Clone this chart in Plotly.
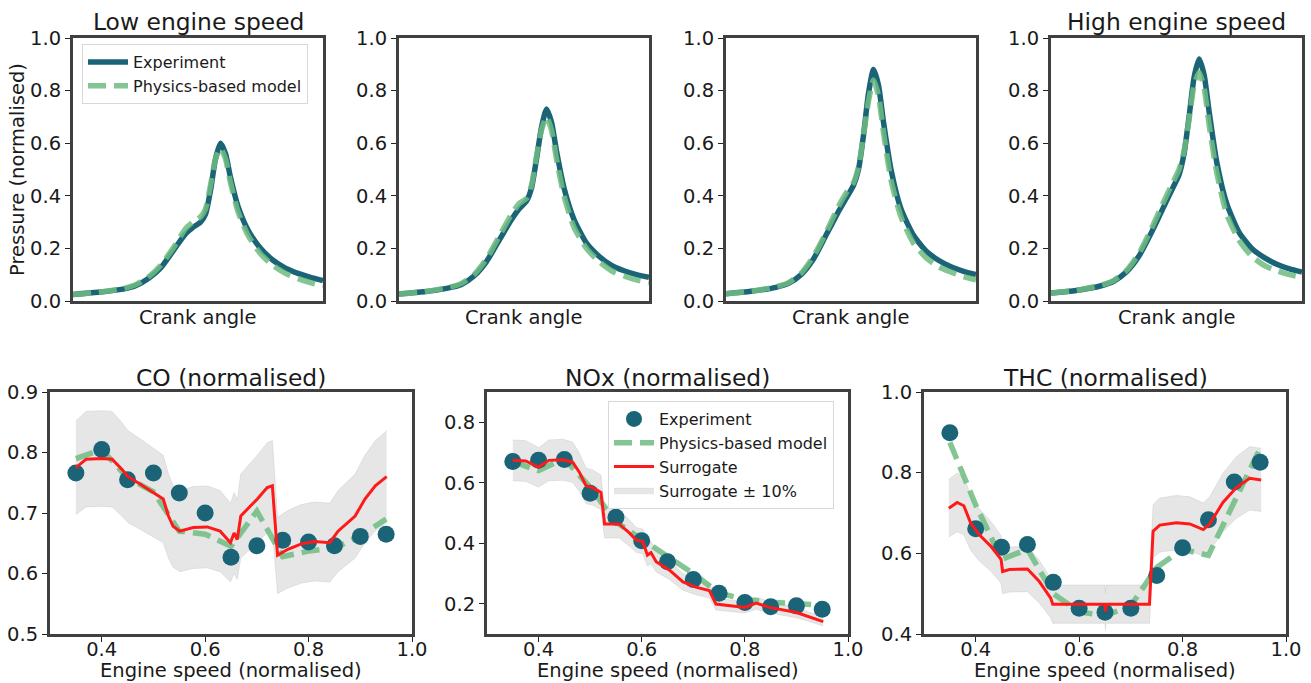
import plotly.graph_objects as go

# ---------------- data ----------------
crank = [0.0, 0.1, 0.2, 0.25, 0.3, 0.35, 0.4, 0.45, 0.48, 0.51, 0.53, 0.55, 0.57, 0.59,
         0.61, 0.63, 0.66, 0.7, 0.75, 0.8, 0.85, 0.9, 0.95, 1.0]

p_low_exp = [0.025, 0.033, 0.045, 0.058, 0.085, 0.125, 0.19, 0.255, 0.28, 0.30, 0.33, 0.42, 0.54, 0.60,
             0.56, 0.47, 0.36, 0.27, 0.20, 0.155, 0.125, 0.105, 0.09, 0.078]
p_low_phy = [0.025, 0.033, 0.047, 0.062, 0.09, 0.135, 0.20, 0.275, 0.30, 0.32, 0.35, 0.44, 0.54, 0.58,
             0.54, 0.45, 0.34, 0.25, 0.18, 0.135, 0.105, 0.085, 0.07, 0.058]
p_m1_exp = [0.027, 0.035, 0.05, 0.063, 0.095, 0.15, 0.23, 0.31, 0.35, 0.38, 0.43, 0.54, 0.66, 0.73,
            0.68, 0.57, 0.43, 0.31, 0.22, 0.17, 0.135, 0.115, 0.10, 0.09]
p_m1_phy = [0.027, 0.035, 0.052, 0.067, 0.10, 0.16, 0.245, 0.33, 0.37, 0.39, 0.44, 0.55, 0.65, 0.70,
            0.65, 0.54, 0.40, 0.28, 0.20, 0.15, 0.115, 0.095, 0.08, 0.07]
p_m2_exp = [0.028, 0.037, 0.052, 0.067, 0.10, 0.16, 0.25, 0.34, 0.39, 0.44, 0.50, 0.63, 0.79, 0.88,
            0.82, 0.68, 0.50, 0.35, 0.25, 0.19, 0.155, 0.13, 0.113, 0.10]
p_m2_phy = [0.028, 0.037, 0.054, 0.07, 0.105, 0.17, 0.26, 0.36, 0.41, 0.45, 0.51, 0.63, 0.76, 0.84,
            0.78, 0.64, 0.46, 0.32, 0.22, 0.165, 0.13, 0.11, 0.093, 0.08]
p_high_exp = [0.03, 0.04, 0.058, 0.075, 0.11, 0.17, 0.26, 0.36, 0.42, 0.48, 0.56, 0.70, 0.85, 0.92,
              0.86, 0.72, 0.53, 0.37, 0.26, 0.20, 0.165, 0.14, 0.122, 0.11]
p_high_phy = [0.03, 0.04, 0.06, 0.078, 0.115, 0.18, 0.275, 0.38, 0.44, 0.50, 0.57, 0.69, 0.82, 0.87,
              0.81, 0.67, 0.49, 0.33, 0.23, 0.17, 0.135, 0.115, 0.10, 0.09]

speed = [0.35, 0.40, 0.45, 0.50, 0.55, 0.60, 0.65, 0.70, 0.75, 0.80, 0.85, 0.90, 0.95]

co_exp = [0.766, 0.805, 0.755, 0.766, 0.733, 0.700, 0.627, 0.646, 0.655, 0.652, 0.646, 0.661, 0.665]
co_phy = [0.790, 0.805, 0.758, 0.735, 0.670, 0.665, 0.645, 0.703, 0.628, 0.637, 0.642, 0.662, 0.690]
co_sur_x = [0.35, 0.37, 0.40, 0.42, 0.438, 0.451, 0.474, 0.50, 0.519, 0.529, 0.538, 0.551, 0.577,
            0.604, 0.629, 0.649, 0.656, 0.662, 0.669, 0.688, 0.701, 0.72, 0.73, 0.74, 0.76,
            0.786, 0.812, 0.841, 0.857, 0.89, 0.909, 0.929, 0.951]
co_sur = [0.775, 0.789, 0.790, 0.789, 0.773, 0.760, 0.748, 0.734, 0.723, 0.695, 0.678, 0.670, 0.676,
          0.677, 0.670, 0.651, 0.667, 0.656, 0.695, 0.712, 0.723, 0.742, 0.745, 0.630, 0.640,
          0.649, 0.653, 0.651, 0.670, 0.695, 0.723, 0.745, 0.760]

nox_exp = [0.670, 0.674, 0.677, 0.565, 0.486, 0.408, 0.339, 0.280, 0.235, 0.204, 0.190, 0.193, 0.182]
nox_phy = [0.670, 0.640, 0.680, 0.585, 0.470, 0.415, 0.360, 0.300, 0.235, 0.215, 0.205, 0.200, 0.195]
nox_sur_x = [0.35, 0.375, 0.40, 0.42, 0.447, 0.466, 0.479, 0.492, 0.505, 0.521, 0.528, 0.556, 0.576,
             0.589, 0.602, 0.611, 0.618, 0.628, 0.654, 0.68, 0.705, 0.731, 0.744, 0.77, 0.80,
             0.822, 0.848, 0.90, 0.952]
nox_sur = [0.674, 0.672, 0.651, 0.674, 0.676, 0.668, 0.635, 0.590, 0.584, 0.568, 0.464, 0.464, 0.434,
           0.411, 0.406, 0.361, 0.369, 0.339, 0.311, 0.272, 0.255, 0.244, 0.199, 0.193, 0.188,
           0.202, 0.188, 0.171, 0.141]

thc_exp = [0.899, 0.661, 0.615, 0.622, 0.528, 0.464, 0.454, 0.464, 0.545, 0.614, 0.683, 0.777, 0.826]
thc_phy = [0.875, 0.720, 0.585, 0.610, 0.500, 0.455, 0.445, 0.470, 0.565, 0.610, 0.595, 0.730, 0.860]
thc_sur_x = [0.348, 0.364, 0.377, 0.39, 0.406, 0.429, 0.449, 0.452, 0.465, 0.50, 0.523, 0.545, 0.549,
             0.646, 0.650, 0.651, 0.652, 0.654, 0.736, 0.743, 0.756, 0.788, 0.814, 0.84, 0.852,
             0.878, 0.904, 0.93, 0.952]
thc_sur = [0.712, 0.726, 0.718, 0.676, 0.647, 0.618, 0.585, 0.555, 0.560, 0.561, 0.530, 0.489, 0.474,
           0.474, 0.474, 0.456, 0.474, 0.474, 0.474, 0.655, 0.670, 0.676, 0.673, 0.659, 0.672,
           0.726, 0.763, 0.786, 0.782]

band_frac = 0.10

top_titles = ["Low engine speed", "", "", "High engine speed"]
bottom_titles = ["CO (normalised)", "NOx (normalised)", "THC (normalised)"]

# ---------------- style ----------------
W, H = 1311, 683
TEAL = "#1b6478"
GREEN = "rgba(110,188,128,0.85)"
RED = "#ff1a1a"
BAND = "rgba(205,205,205,0.5)"
SPINE = "#404040"
FONT = "DejaVu Sans"
TXT = "#1a1a1a"
TICK_SIZE = 19.5
LABEL_SIZE = 19.5
TITLE_SIZE = 23.4
LEG_SIZE = 16

top_px = [(73, 323), (399, 649), (726, 976), (1051, 1302)]
top_py = (38, 301)
bot_px = [(50, 412), (487, 848), (924, 1286)]
bot_py = (392, 634)


def xd(a, b):
    return [a / W, b / W]


def yd(t, b):
    return [1 - b / H, 1 - t / H]


fig = go.Figure()
layout = dict(
    template="none",
    width=W, height=H, margin=dict(l=0, r=0, t=0, b=0, pad=0, autoexpand=False),
    plot_bgcolor="white", paper_bgcolor="white",
    font=dict(family=FONT, color=TXT),
    showlegend=True,
)

axis_common = dict(showline=True, mirror=True, linecolor=SPINE, linewidth=3, automargin=False,
                   showgrid=False, zeroline=False, ticklen=5,
                   tickwidth=1.2, tickcolor="#222", tickfont=dict(size=TICK_SIZE, family=FONT, color=TXT))

annotations = []
top_data = [(p_low_exp, p_low_phy), (p_m1_exp, p_m1_phy), (p_m2_exp, p_m2_phy), (p_high_exp, p_high_phy)]

for i, ((x0, x1), (e, p)) in enumerate(zip(top_px, top_data)):
    n = i + 1
    xa = "x" if n == 1 else f"x{n}"
    ya = "y" if n == 1 else f"y{n}"
    layout["xaxis" if n == 1 else f"xaxis{n}"] = dict(
        domain=xd(x0, x1), anchor=ya, range=[0, 1], showticklabels=False, ticks="", **axis_common)
    layout["yaxis" if n == 1 else f"yaxis{n}"] = dict(
        domain=yd(*top_py), anchor=xa, range=[0, 1], tickvals=[0, 0.2, 0.4, 0.6, 0.8, 1.0],
        tickformat=".1f", ticks="outside", **axis_common)
    fig.add_trace(go.Scatter(x=crank, y=e, xaxis=xa, yaxis=ya, mode="lines",
                             line=dict(color=TEAL, width=5.5, shape="spline", smoothing=0.6),
                             name="Experiment", showlegend=(n == 1), legend="legend", legendrank=1))
    fig.add_trace(go.Scatter(x=crank, y=p, xaxis=xa, yaxis=ya, mode="lines",
                             line=dict(color=GREEN, width=5.5, dash="18px,8px", shape="spline", smoothing=0.6),
                             name="Physics-based model", showlegend=(n == 1), legend="legend", legendrank=2))
    annotations.append(dict(text="Crank angle", x=(x0 + x1) / 2 / W, y=1 - 318 / H, xref="paper", yref="paper",
                            showarrow=False, font=dict(size=LABEL_SIZE, family=FONT, color=TXT),
                            xanchor="center", yanchor="middle"))
    if top_titles[i]:
        annotations.append(dict(text=top_titles[i], x=(x0 + x1) / 2 / W, y=1 - 22 / H, xref="paper", yref="paper",
                                showarrow=False, font=dict(size=TITLE_SIZE, family=FONT, color=TXT),
                                xanchor="center", yanchor="middle"))

annotations.append(dict(text="Pressure (normalised)", x=17 / W, y=1 - 170 / H, xref="paper", yref="paper",
                        showarrow=False, textangle=-90, font=dict(size=LABEL_SIZE, family=FONT, color=TXT),
                        xanchor="center", yanchor="middle"))

bot_data = [
    (co_exp, co_phy, co_sur_x, co_sur, [0.5, 0.9], [0.5, 0.6, 0.7, 0.8, 0.9]),
    (nox_exp, nox_phy, nox_sur_x, nox_sur, [0.1, 0.9], [0.2, 0.4, 0.6, 0.8]),
    (thc_exp, thc_phy, thc_sur_x, thc_sur, [0.4, 1.0], [0.4, 0.6, 0.8, 1.0]),
]

for j, ((x0, x1), (e, p, sx, s, yr, yt)) in enumerate(zip(bot_px, bot_data)):
    n = 5 + j
    xa, ya = f"x{n}", f"y{n}"
    layout[f"xaxis{n}"] = dict(domain=xd(x0, x1), anchor=ya, range=[0.3, 1.0], ticks="outside",
                               tickvals=[0.4, 0.6, 0.8, 1.0], tickformat=".1f",
                               ticklabelstandoff=-9, **axis_common)
    layout[f"yaxis{n}"] = dict(domain=yd(*bot_py), anchor=xa, range=yr, tickvals=yt, ticks="outside",
                               tickformat=".1f", **axis_common)
    show = (j == 1)
    lower = [v * (1 - band_frac) for v in s]
    upper = [v * (1 + band_frac) for v in s]
    fig.add_trace(go.Scatter(x=sx, y=lower, xaxis=xa, yaxis=ya, mode="lines",
                             line=dict(color="rgba(190,190,190,0.6)", width=0.6),
                             showlegend=False, hoverinfo="skip", legend="legend2"))
    fig.add_trace(go.Scatter(x=sx, y=upper, xaxis=xa, yaxis=ya, mode="lines", fill="tonexty",
                             fillcolor=BAND, line=dict(color="rgba(190,190,190,0.6)", width=0.6),
                             name="Surrogate \u00b1 10%", showlegend=show, legend="legend2", legendrank=4))
    fig.add_trace(go.Scatter(x=speed, y=p, xaxis=xa, yaxis=ya, mode="lines",
                             line=dict(color=GREEN, width=5.5, dash="18px,8px"),
                             name="Physics-based model", showlegend=show, legend="legend2", legendrank=2))
    fig.add_trace(go.Scatter(x=speed, y=e, xaxis=xa, yaxis=ya, mode="markers",
                             marker=dict(color=TEAL, size=17, line=dict(width=0)),
                             name="Experiment", showlegend=show, legend="legend2", legendrank=1))
    fig.add_trace(go.Scatter(x=sx, y=s, xaxis=xa, yaxis=ya, mode="lines",
                             line=dict(color=RED, width=3),
                             name="Surrogate", showlegend=show, legend="legend2", legendrank=3))
    annotations.append(dict(text=bottom_titles[j], x=(x0 + x1) / 2 / W, y=1 - 378 / H, xref="paper", yref="paper",
                            showarrow=False, font=dict(size=TITLE_SIZE, family=FONT, color=TXT),
                            xanchor="center", yanchor="middle"))
    annotations.append(dict(text="Engine speed (normalised)", x=(x0 + x1) / 2 / W, y=1 - 670 / H,
                            xref="paper", yref="paper", showarrow=False,
                            font=dict(size=LABEL_SIZE, family=FONT, color=TXT),
                            xanchor="center", yanchor="middle"))

layout["annotations"] = annotations
layout["legend"] = dict(x=82 / W, y=1 - 44 / H, xanchor="left", yanchor="top",
                        bgcolor="rgba(255,255,255,0.85)", bordercolor="#d8d8d8", borderwidth=1,
                        font=dict(size=LEG_SIZE, family=FONT, color=TXT), itemwidth=40,
                        tracegroupgap=0, traceorder="normal")
layout["legend2"] = dict(x=608 / W, y=1 - 401 / H, xanchor="left", yanchor="top",
                         bgcolor="rgba(255,255,255,0.85)", bordercolor="#d8d8d8", borderwidth=1,
                         font=dict(size=LEG_SIZE, family=FONT, color=TXT), itemwidth=40,
                         tracegroupgap=0, traceorder="normal")

fig.update_layout(**layout)
fig.write_html("out.html", config={"displayModeBar": False},
               post_script="document.body.style.margin='0';document.body.style.overflow='hidden';")
